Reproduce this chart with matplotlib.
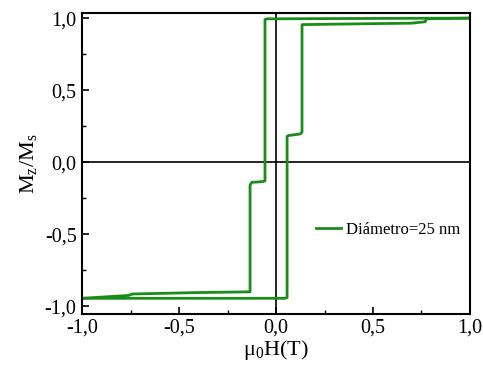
import numpy as np
import matplotlib
matplotlib.use('Agg')
import matplotlib.pyplot as plt
from matplotlib.ticker import MultipleLocator

plt.rcParams['font.family'] = ['Liberation Serif', 'DejaVu Serif']
plt.rcParams['mathtext.fontset'] = 'custom'
plt.rcParams['mathtext.rm'] = 'Liberation Serif'
plt.rcParams['mathtext.it'] = 'Liberation Serif'

# Descending branch (field swept from +1 T to -1 T)
h_down = [1.0, 0.30, -0.050, -0.057, -0.057, -0.070, -0.125, -0.132, -0.134, -0.134,
          -0.40, -0.74, -0.76, -1.0]
m_down = [1.0, 0.997, 0.995, 0.99, -0.13, -0.135, -0.14, -0.155, -0.16, -0.90,
          -0.905, -0.915, -0.925, -0.945]

# Ascending branch (field swept from -1 T to +1 T)
h_up = [-1.0, -0.40, 0.045, 0.057, 0.057, 0.065, 0.120, 0.130, 0.134, 0.134,
        0.40, 0.70, 0.77, 0.775, 1.0]
m_up = [-0.945, -0.945, -0.945, -0.94, 0.18, 0.185, 0.195, 0.20, 0.21, 0.955,
        0.96, 0.965, 0.975, 0.995, 1.0]

green = '#1a8c1a'

fig = plt.figure(figsize=(4.83, 3.74), dpi=100)
ax = fig.add_axes([0.170, 0.160, 0.803, 0.805])

ax.axhline(0, color='black', lw=1.2, zorder=1)
ax.axvline(0, color='black', lw=1.2, zorder=1)
ax.plot(h_down, m_down, color=green, lw=2.0, label='Diámetro=25 nm', zorder=2)
ax.plot(h_up, m_up, color=green, lw=2.0, zorder=2)

ax.set_xlim(-1.0, 1.0)
ax.set_ylim(-1.055, 1.035)
ax.xaxis.set_major_locator(MultipleLocator(0.5))
ax.xaxis.set_minor_locator(MultipleLocator(0.25))
ax.yaxis.set_major_locator(MultipleLocator(0.5))
ax.yaxis.set_minor_locator(MultipleLocator(0.25))
fmt = lambda v, p: ('%.1f' % v).replace('.', ',')
ax.xaxis.set_major_formatter(fmt)
ax.yaxis.set_major_formatter(fmt)
ax.tick_params(which='both', direction='in', top=False, right=False, labelsize=14.5)
ax.tick_params(axis='y', pad=4)
ax.tick_params(which='major', length=5, width=1.2)
ax.tick_params(which='minor', length=3, width=1.0)
for s in ax.spines.values():
  s.set_linewidth(1.5)

ax.set_xlabel(r'$\mathrm{\mu_0H(T)}$', fontsize=16, labelpad=0)
ax.set_ylabel(r'$\mathrm{M_z/M_s}$', fontsize=16, labelpad=4)

ax.legend(loc='center left', bbox_to_anchor=(0.565, 0.28), frameon=False,
          fontsize=12, handlelength=1.5, handletextpad=0.3)

plt.savefig('out.png', dpi=100)
